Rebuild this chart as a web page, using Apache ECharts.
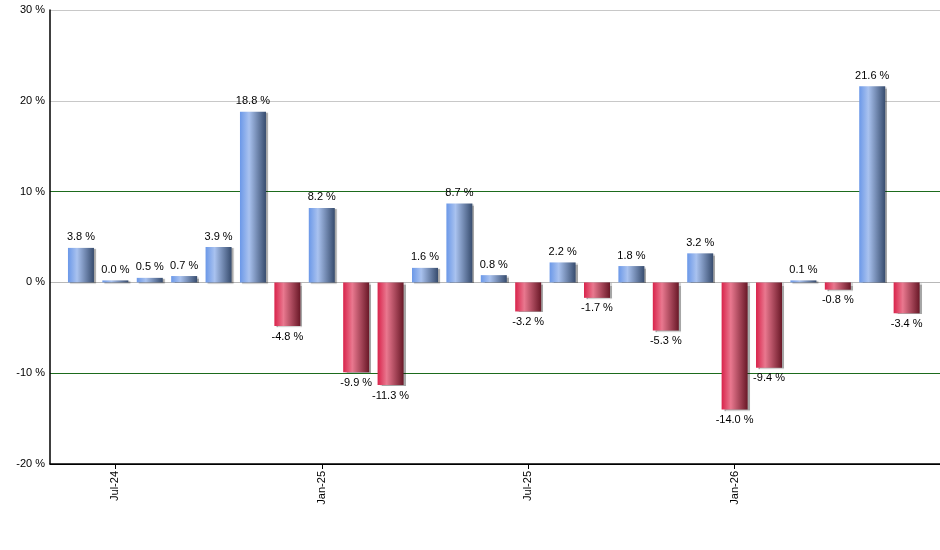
<!DOCTYPE html>
<html>
<head>
<meta charset="utf-8">
<script src="https://cdn.jsdelivr.net/npm/echarts@6/dist/echarts.min.js"></script>
<style>
body{margin:0;background:#fff;}
#chart{width:940px;height:550px;}
</style>
</head>
<body>
<div id="chart"></div>
<script>
// monthly returns, Jun-24 .. Jun-26
var months = ['Jun-24','Jul-24','Aug-24','Sep-24','Oct-24','Nov-24','Dec-24','Jan-25','Feb-25','Mar-25','Apr-25','May-25','Jun-25',
	'Jul-25','Aug-25','Sep-25','Oct-25','Nov-25','Dec-25','Jan-26','Feb-26','Mar-26','Apr-26','May-26','Jun-26'];
var returns = [3.8, 0.0, 0.5, 0.7, 3.9, 18.8, -4.8, 8.2, -9.9, -11.3, 1.6, 8.7, 0.8,
	-3.2, 2.2, -1.7, 1.8, -5.3, 3.2, -14.0, -9.4, 0.1, -0.8, 21.6, -3.4];
var tickIdx = [1, 7, 13, 19];
var yTicks = [-20, -10, 0, 10, 20, 30];

var chart = echarts.init(document.getElementById('chart'));

var blueGrad = new echarts.graphic.LinearGradient(0, 0, 1, 0, [
	{offset: 0, color: '#6b98e8'},
	{offset: 0.35, color: '#a9c2ef'},
	{offset: 1, color: '#374c6e'}
]);
var redGrad = new echarts.graphic.LinearGradient(0, 0, 1, 0, [
	{offset: 0, color: '#d9234b'},
	{offset: 0.35, color: '#e9788f'},
	{offset: 1, color: '#691827'}
]);

var barData = [];
for (var i = 0; i < returns.length; i++) {
	var v = returns[i];
	barData.push({
		value: [i, v],
		itemStyle: {color: v < 0 ? redGrad : blueGrad},
		label: {position: v < 0 ? 'bottom' : 'top'}
	});
}

var font = "'Liberation Sans', Arial, sans-serif";

var option = {
	animation: false,
	grid: {left: 50, right: 0, top: 10, bottom: 86, containLabel: false},
	xAxis: {
		type: 'value',
		min: -0.9,
		max: 24.97,
		axisLine: {onZero: false, lineStyle: {color: '#000', width: 1.5}},
		axisTick: {show: true, customValues: tickIdx, length: 5, lineStyle: {color: '#000'}},
		axisLabel: {
			customValues: tickIdx,
			rotate: 90,
			color: '#000',
			fontFamily: font,
			fontSize: 11,
			margin: 7,
			formatter: function (v) { return months[Math.round(v)]; }
		},
		splitLine: {show: false}
	},
	yAxis: {
		type: 'value',
		min: yTicks[0],
		max: yTicks[yTicks.length - 1],
		interval: 10,
		axisLine: {show: true, onZero: false, lineStyle: {color: '#000', width: 1.5}},
		axisTick: {show: false},
		axisLabel: {
			color: '#000',
			fontFamily: font,
			fontSize: 11,
			margin: 5,
			formatter: function (v) { return v + ' %'; }
		},
		splitLine: {
			show: true,
			lineStyle: {color: ['#000', '#1d6b1d', '#b8b8b8', '#1d6b1d', '#c8c8c8', '#c8c8c8'], width: 1}
		}
	},
	series: [{
		type: 'bar',
		barWidth: 26,
		barMinHeight: 2,
		data: barData,
		itemStyle: {
			shadowColor: 'rgba(0,0,0,0.35)',
			shadowOffsetX: 2,
			shadowOffsetY: 1,
			shadowBlur: 1
		},
		label: {
			show: true,
			color: '#000',
			fontFamily: font,
			fontSize: 11,
			distance: 5,
			formatter: function (p) { return p.value[1].toFixed(1) + ' %'; }
		}
	}]
};
chart.setOption(option);
</script>
</body>
</html>
